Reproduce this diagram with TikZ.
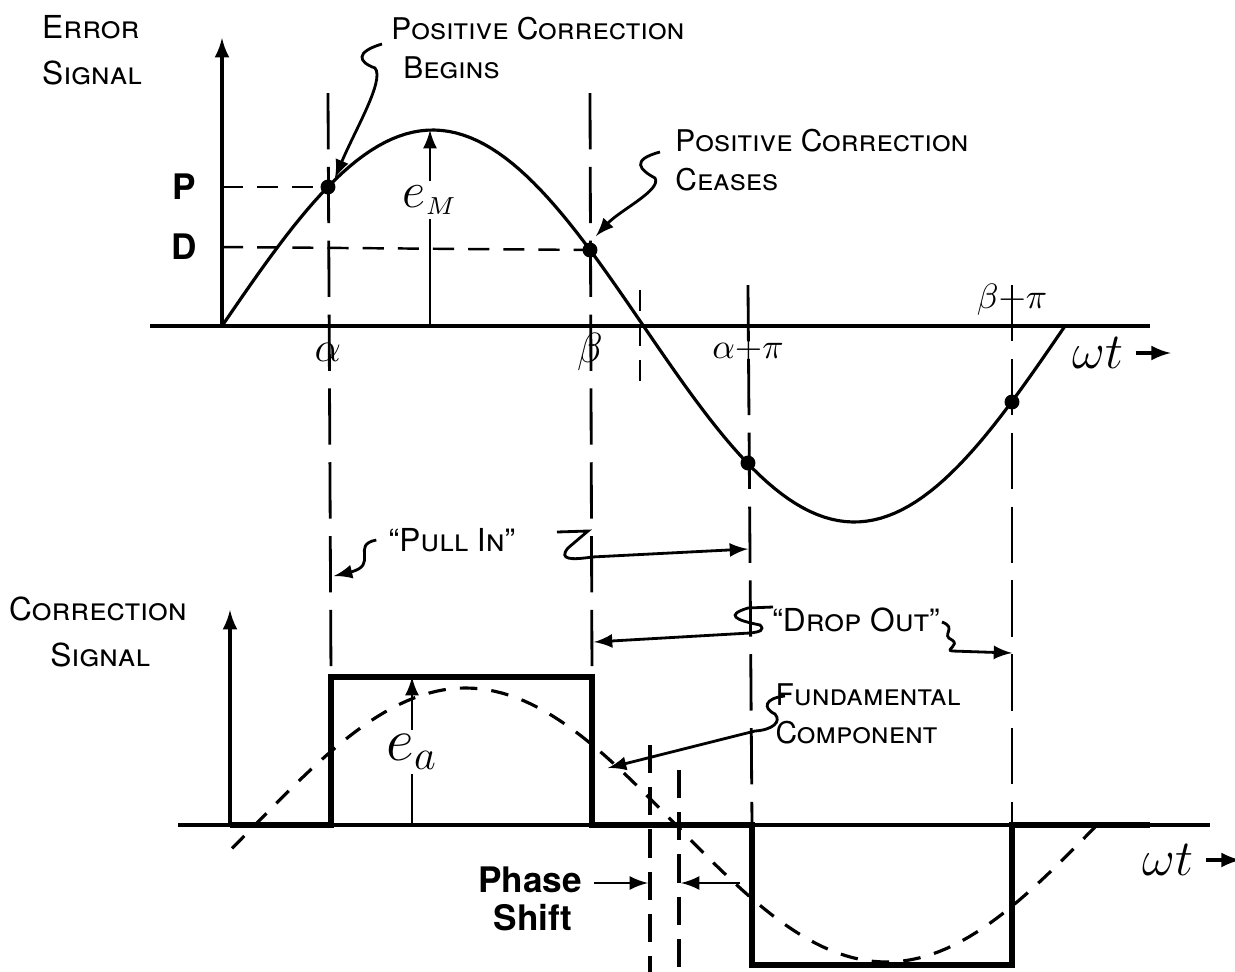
\documentclass[tikz,border=0pt]{standalone}
\usepackage{fontspec}
\setmainfont{TeX Gyre Heros}
\usetikzlibrary{arrows}

\tikzset{
  axisline/.style={line width=0.9pt},
  guide/.style={line width=0.8pt, dash pattern=on 16pt off 5pt},
  level/.style={line width=0.7pt, dash pattern=on 6pt off 4pt},
  pulse/.style={line width=1.6pt},
  fund/.style={line width=0.9pt, dash pattern=on 5pt off 4pt},
  dot/.style={circle, fill, inner sep=1.5pt},
  caps/.style={font=\fontsize{8.5}{11}\selectfont\scshape, align=left},
  lead/.style={line width=0.8pt, -latex}
}

\begin{document}
\begin{tikzpicture}[x=0.01cm, y=-0.01cm]
\useasboundingbox (0,0) rectangle (1235,972);

% error signal
\coordinate (O1) at (222,326);
\draw[axisline, -latex] (O1) -- (222,38);
\draw[axisline] (150,326) -- (1150,326);
\draw[line width=0.9pt] plot[domain=222:1065, samples=120]
  (\x, {326-196*sin((\x-222)/421.5*180)});

\coordinate (pa) at (328,187);
\coordinate (pb) at (590,250);
\coordinate (pc) at (748,463);
\coordinate (pd) at (1012,402);
\foreach \p in {pa,pb,pc,pd} \node[dot] at (\p) {};

\draw[guide] (328,93) -- (331,677);
\draw[guide] (590,93) -- (592,677);
\draw[guide] (748,285) -- (752,825);
\draw[guide] (1012,285) -- (1012,825);
\draw[guide, dash pattern=on 6pt off 4pt] (640,290) -- (640,385);

\draw[level] (222,187) -- (pa);
\draw[level] (222,247) -- (pb);
\node[font=\bfseries] (P) at (184,187) {P};
\node[font=\bfseries] (D) at (184,247) {D};

\coordinate (eM0) at (430,326);
\coordinate (eM1) at (430,130);
\node[font=\Large, inner sep=1pt] (eM) at (430,200) {$e_{\scriptscriptstyle M}$};
\draw[line width=0.8pt] (eM0) -- (eM);
\draw[lead] (eM) -- (eM1);

\node[font=\large] (al) at (328,352) {$\alpha$};
\node[font=\large] (be) at (590,352) {$\beta$};
\node (alpi) at (748,350) {$\alpha{+}\pi$};
\node (bepi) at (1012,300) {$\beta{+}\pi$};
\node[font=\Large] (wt1) at (1098,353) {$\omega t$};
\draw[axisline, -latex] (wt1.east) -- +(35,0);

\node[caps, font=\fontsize{9}{13}\selectfont\scshape] (err) at (92,50) {Error\\Signal};
\node[caps] (beg) at (538,48) {Positive Correction\\\hspace*{0.4em}Begins};
\node[caps] (cea) at (822,160) {Positive Correction\\Ceases};
\draw[lead] (382,44) .. controls (355,52) and (358,62) .. (375,68)
  .. controls (385,80) and (355,130) .. (335,178);
\draw[lead] (660,152) .. controls (630,160) and (640,170) .. (655,178)
  .. controls (662,190) and (620,210) .. (596,236);

% correction signal
\coordinate (O2) at (230,825);
\draw[axisline, -latex] (O2) -- (230,610);
\draw[axisline] (178,825) -- (1210,825);
\draw[pulse] (230,825) -- (331,825) -- (331,677) -- (592,677) -- (592,825)
  -- (752,825) -- (752,965) -- (1012,965) -- (1012,825) -- (1150,825);
\draw[fund] plot[domain=232:1100, samples=120]
  (\x, {825-137*sin((\x-255)/421*180)});

\coordinate (ea0) at (412,825);
\coordinate (ea1) at (412,677);
\node[font=\LARGE, inner sep=1pt] (ea) at (412,752) {$e_a$};
\draw[line width=0.8pt] (ea0) -- (ea);
\draw[lead] (ea) -- (ea1);

\node[caps, font=\fontsize{9}{13}\selectfont\scshape] (cor) at (98,632) {Correction\\\hspace*{1.3em}Signal};

% pull in / drop out
\node[caps, font=\fontsize{9}{12}\selectfont\scshape] (pull) at (452,540) {``Pull In''};
\draw[lead] (pull.west) .. controls (350,545) and (380,565) .. (334,576);
\draw[line width=0.8pt] (557,532) -- (588,531) -- (568,548)
  .. controls (558,560) and (572,560) .. (592,557);
\draw[lead] (592,557) -- (748,549);

\node[caps, font=\fontsize{9}{12}\selectfont\scshape] (drop) at (856,620) {``Drop Out''};
\draw[line width=0.8pt] (773,607) -- (748,608) .. controls (725,615) and (735,620) .. (760,625)
  .. controls (765,630) and (760,632) .. (750,633);
\draw[lead] (750,633) -- (594,642);
\draw[lead] (942,622) .. controls (958,628) and (940,635) .. (952,640)
  .. controls (960,645) and (945,650) .. (952,651) -- (1012,653);

\node[caps] (fundc) at (868,714) {Fundamental\\Component};
\coordinate (fl) at (785,696);
\draw[lead] (fl) .. controls (765,698) and (762,708) .. (775,714)
  .. controls (782,722) and (772,730) .. (755,731) -- (608,768);

% phase shift
\draw[fund, dash pattern=on 8pt off 4pt] (650,745) -- (650,972);
\draw[fund, dash pattern=on 8pt off 4pt] (679,770) -- (679,972);
\node[font=\bfseries] (ph) at (530,880) {Phase};
\node[font=\bfseries] (sh) at (533,918) {Shift};
\coordinate (ps1) at (648,883);
\coordinate (ps2) at (681,883);
\draw[lead] (594,883) -- (ps1);
\draw[lead] (740,883) -- (ps2);

\node[font=\Large] (wt2) at (1168,860) {$\omega t$};
\draw[axisline, -latex] (wt2.east) -- +(35,0);
\end{tikzpicture}
\end{document}
